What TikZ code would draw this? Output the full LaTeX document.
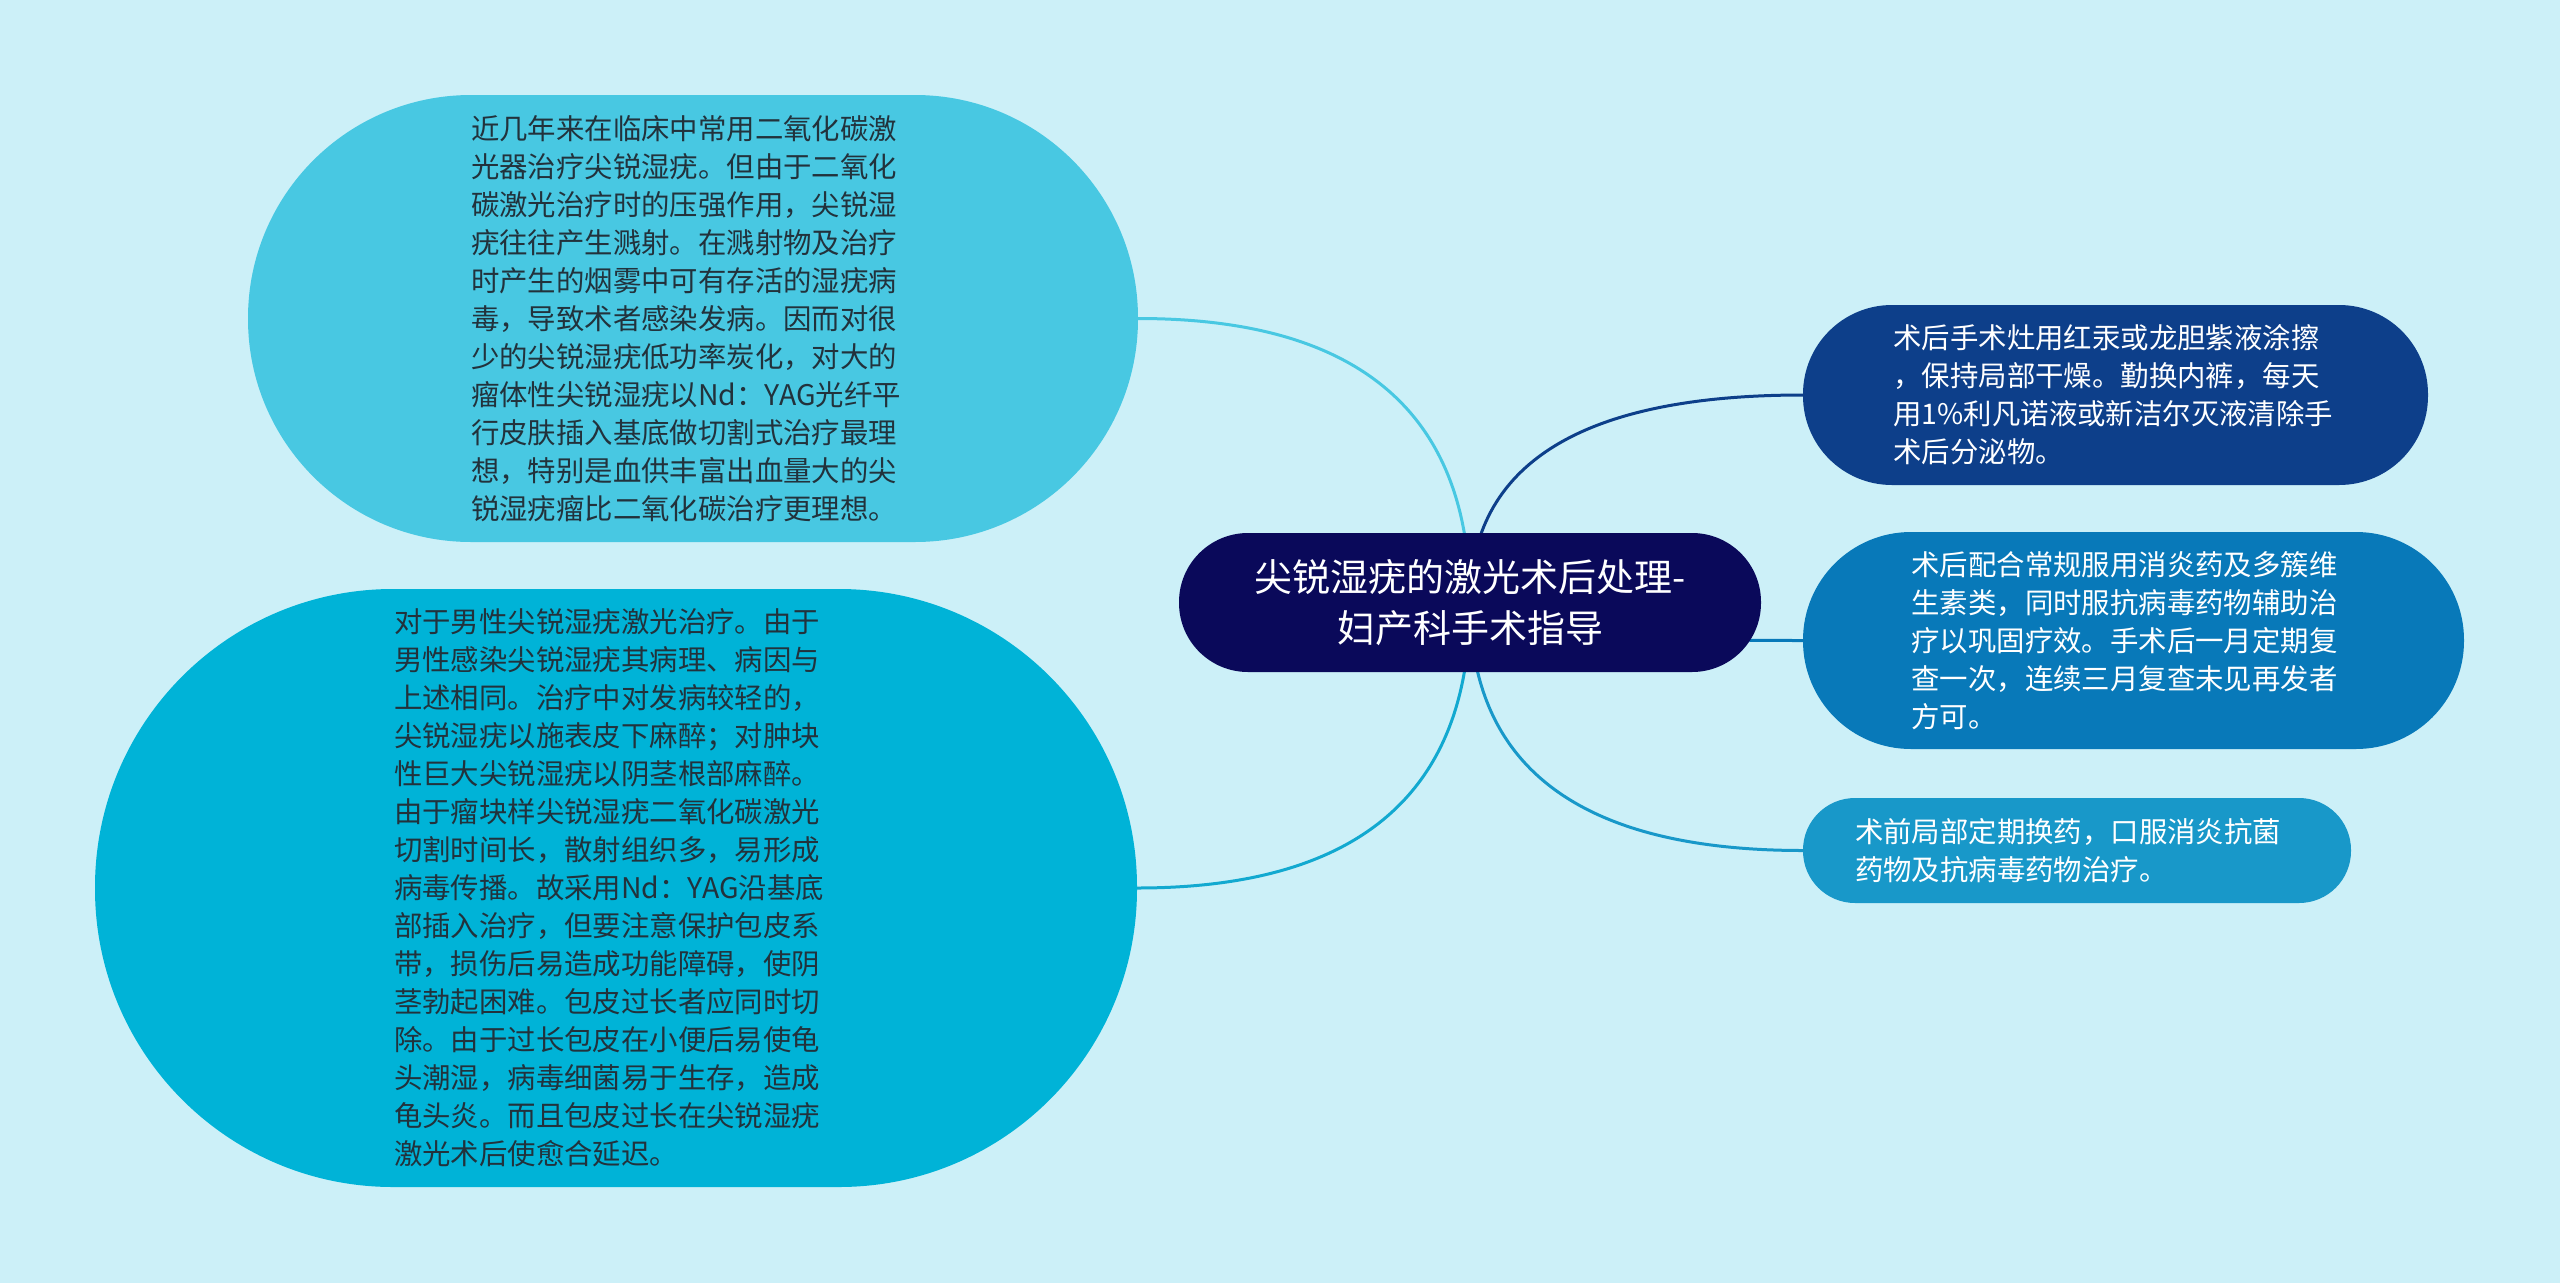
\documentclass[tikz,border=0pt]{standalone}
\usepackage{fontspec}
\setmainfont{Noto Sans CJK SC}
\usetikzlibrary{calc}
\definecolor{bgc}{HTML}{CCF0F8}
\definecolor{cLa}{HTML}{48C8E2}
\definecolor{cLb}{HTML}{00B3D7}
\definecolor{cRoot}{HTML}{0A095A}
\definecolor{cRa}{HTML}{0D3F8A}
\definecolor{cRb}{HTML}{0879B9}
\definecolor{cRc}{HTML}{1898C9}
\definecolor{eLb}{HTML}{12A9D0}
\definecolor{tdark}{HTML}{22323C}
\newcommand\fsbody{\fontsize{28.4pt}{38pt}\selectfont}
\newcommand\fsroot{\fontsize{38pt}{51pt}\selectfont}
\pgfdeclarelayer{bglayer}
\pgfdeclarelayer{edgelayer}
\pgfsetlayers{bglayer,edgelayer,main}
\begin{document}
\begin{tikzpicture}[x=1pt,y=-1pt,
  mmbox/.style={shape=rectangle,align=left,inner sep=0pt,draw=none},
  bodytext/.style={font=\fsbody,text width=444pt},
  edge/.style={line width=3pt}]
\useasboundingbox (0,0) rectangle (2560,1283);

\node[mmbox,fill=cRoot,text=white,font=\fsroot,align=center,
  minimum width=582pt,minimum height=139pt,rounded corners=69pt] (root) at (1470,602.5)
  {尖锐湿疣的激光术后处理-\\妇产科手术指导};

\node[mmbox,bodytext,fill=cLa,text=tdark,
  minimum width=890pt,minimum height=447pt,rounded corners=223pt] (L1) at (693,318.5)
  {近几年来在临床中常用二氧化碳激\\
   光器治疗尖锐湿疣。但由于二氧化\\
   碳激光治疗时的压强作用，尖锐湿\\
   疣往往产生溅射。在溅射物及治疗\\
   时产生的烟雾中可有存活的湿疣病\\
   毒，导致术者感染发病。因而对很\\
   少的尖锐湿疣低功率炭化，对大的\\
   瘤体性尖锐湿疣以Nd：YAG光纤平\\
   行皮肤插入基底做切割式治疗最理\\
   想，特别是血供丰富出血量大的尖\\
   锐湿疣瘤比二氧化碳治疗更理想。};

\node[mmbox,bodytext,fill=cLb,text=tdark,
  minimum width=1042pt,minimum height=598pt,rounded corners=298pt] (L2) at (616,888)
  {对于男性尖锐湿疣激光治疗。由于\\
   男性感染尖锐湿疣其病理、病因与\\
   上述相同。治疗中对发病较轻的，\\
   尖锐湿疣以施表皮下麻醉；对肿块\\
   性巨大尖锐湿疣以阴茎根部麻醉。\\
   由于瘤块样尖锐湿疣二氧化碳激光\\
   切割时间长，散射组织多，易形成\\
   病毒传播。故采用Nd：YAG沿基底\\
   部插入治疗，但要注意保护包皮系\\
   带，损伤后易造成功能障碍，使阴\\
   茎勃起困难。包皮过长者应同时切\\
   除。由于过长包皮在小便后易使龟\\
   头潮湿，病毒细菌易于生存，造成\\
   龟头炎。而且包皮过长在尖锐湿疣\\
   激光术后使愈合延迟。};

\node[mmbox,bodytext,fill=cRa,text=white,
  minimum width=625pt,minimum height=180pt,rounded corners=89pt] (R1) at (2115.5,395)
  {术后手术灶用红汞或龙胆紫液涂擦\\
   ，保持局部干燥。勤换内裤，每天\\
   用1\%利凡诺液或新洁尔灭液清除手\\
   术后分泌物。};

\node[mmbox,bodytext,fill=cRb,text=white,
  minimum width=661pt,minimum height=217pt,rounded corners=108pt] (R2) at (2133.5,640.5)
  {术后配合常规服用消炎药及多簇维\\
   生素类，同时服抗病毒药物辅助治\\
   疗以巩固疗效。手术后一月定期复\\
   查一次，连续三月复查未见再发者\\
   方可。};

\node[mmbox,bodytext,fill=cRc,text=white,
  minimum width=548pt,minimum height=105pt,rounded corners=52pt] (R3) at (2077,850.5)
  {术前局部定期换药，口服消炎抗菌\\
   药物及抗病毒药物治疗。};

\coordinate (kL1) at (root.center |- L1.east);
\coordinate (kL2) at (root.center |- L2.east);
\coordinate (kR1) at (root.center |- R1.west);
\coordinate (kR2) at (root.center |- R2.west);
\coordinate (kR3) at (root.center |- R3.west);

\begin{pgfonlayer}{bglayer}
\fill[bgc] (0,0) rectangle (2560,1283);
\end{pgfonlayer}

\begin{pgfonlayer}{edgelayer}
\draw[edge,cLa] (root.center) .. controls ($(root.center)!0.6667!(kL1)$) and ($(L1.east)!0.6667!(kL1)$) .. (L1.east);
\draw[edge,eLb] (root.center) .. controls ($(root.center)!0.6667!(kL2)$) and ($(L2.east)!0.6667!(kL2)$) .. (L2.east);
\draw[edge,cRa] (root.center) .. controls ($(root.center)!0.6667!(kR1)$) and ($(R1.west)!0.6667!(kR1)$) .. (R1.west);
\draw[edge,cRb] (root.center) .. controls ($(root.center)!0.6667!(kR2)$) and ($(R2.west)!0.6667!(kR2)$) .. (R2.west);
\draw[edge,cRc] (root.center) .. controls ($(root.center)!0.6667!(kR3)$) and ($(R3.west)!0.6667!(kR3)$) .. (R3.west);
\end{pgfonlayer}
\end{tikzpicture}
\end{document}
